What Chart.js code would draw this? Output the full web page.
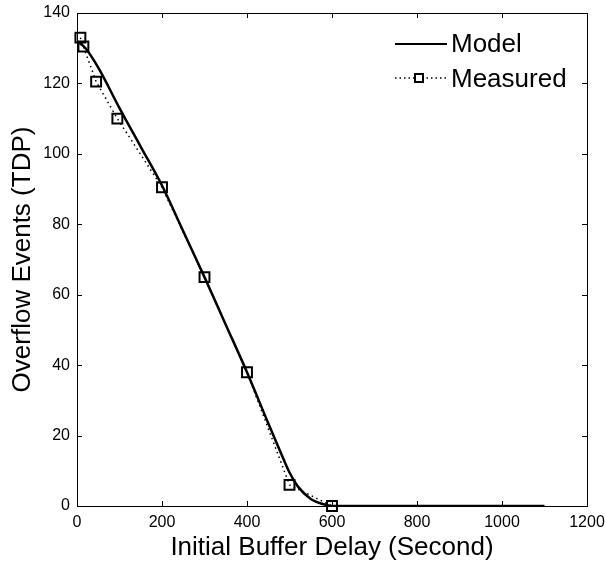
<!DOCTYPE html>
<html>
<head>
<meta charset="utf-8">
<script src="https://cdn.jsdelivr.net/npm/chart.js@4/dist/chart.umd.min.js"></script>
<style>
  html, body { margin: 0; padding: 0; background: #fff; }
  canvas { display: block; }
</style>
</head>
<body>
<canvas id="chart" width="605" height="561"></canvas>
<script>
// model curve
const modelX = [0, 20, 50, 100, 150, 200, 250, 300, 350, 400, 450, 480, 500, 520, 550, 580, 600, 700, 800, 900, 1000, 1100];
const modelY = [132, 130, 124.5, 113, 102, 91, 78, 65, 51.5, 38, 23.5, 15, 9.5, 5.5, 2, 0.5, 0, 0, 0, 0, 0, 0];

// measured points
const measuredX = [8, 15, 45, 95, 200, 300, 400, 500, 600];
const measuredY = [133, 130.5, 120.5, 110, 90.5, 65, 38, 6, 0];

const xTicks = [0, 200, 400, 600, 800, 1000, 1200];
const yTicks = [0, 20, 40, 60, 80, 100, 120, 140];

const FONT = '"Liberation Sans", Arial, sans-serif';

// box round the plot with inward ticks, like the original
const boxPlugin = {
    id: 'box',
    beforeDatasetsDraw(chart) {
        const { ctx, chartArea: a, scales } = chart;
        ctx.save();
        ctx.strokeStyle = '#000';
        ctx.lineWidth = 1;
        ctx.strokeRect(a.left + 0.5, a.top + 0.5, a.right - a.left, a.bottom - a.top);
        ctx.beginPath();
        const len = 5;
        xTicks.forEach(v => {
            const px = Math.round(scales.x.getPixelForValue(v)) + 0.5;
            ctx.moveTo(px, a.bottom);
            ctx.lineTo(px, a.bottom - len);
            ctx.moveTo(px, a.top);
            ctx.lineTo(px, a.top + len);
        });
        yTicks.forEach(v => {
            const py = Math.round(scales.y.getPixelForValue(v)) + 0.5;
            ctx.moveTo(a.left, py);
            ctx.lineTo(a.left + len, py);
            ctx.moveTo(a.right, py);
            ctx.lineTo(a.right - len, py);
        });
        ctx.stroke();
        ctx.restore();
    }
};

// legend inside the plot, top right, no frame
const legendPlugin = {
    id: 'innerLegend',
    afterDatasetsDraw(chart) {
        const { ctx } = chart;
        ctx.save();
        ctx.fillStyle = '#000';
        ctx.strokeStyle = '#000';
        ctx.font = '26px ' + FONT;
        ctx.textBaseline = 'middle';

        // Model
        ctx.lineWidth = 2;
        ctx.beginPath();
        ctx.moveTo(395, 44);
        ctx.lineTo(447, 44);
        ctx.stroke();
        ctx.fillText('Model', 451, 45);

        // Measured
        ctx.lineWidth = 1.5;
        ctx.setLineDash([1.5, 3]);
        ctx.beginPath();
        ctx.moveTo(395, 78);
        ctx.lineTo(447, 78);
        ctx.stroke();
        ctx.setLineDash([]);
        ctx.fillStyle = '#fff';
        ctx.fillRect(415, 74, 8, 8);
        ctx.lineWidth = 2;
        ctx.strokeRect(415, 74, 8, 8);
        ctx.fillStyle = '#000';
        ctx.fillText('Measured', 451, 80);
        ctx.restore();
    }
};

function noOverhang(s) {
    s.paddingTop = 0;
    s.paddingBottom = 0;
    s.paddingLeft = 0;
    s.paddingRight = 0;
}

new Chart(document.getElementById('chart'), {
    type: 'line',
    data: {
        datasets: [
            {
                label: 'Model',
                data: modelX.map((x, i) => ({ x: x, y: modelY[i] })),
                borderColor: '#000',
                borderWidth: 2.5,
                pointRadius: 0,
                cubicInterpolationMode: 'monotone',
                fill: false
            },
            {
                label: 'Measured',
                data: measuredX.map((x, i) => ({ x: x, y: measuredY[i] })),
                borderColor: '#000',
                borderWidth: 1.5,
                borderDash: [1.5, 3.5],
                pointStyle: 'rect',
                pointRadius: 7,
                pointBorderWidth: 2,
                pointBorderColor: '#000',
                pointBackgroundColor: 'rgba(0,0,0,0)',
                tension: 0,
                fill: false,
                clip: false
            }
        ]
    },
    options: {
        responsive: false,
        devicePixelRatio: 1,
        animation: false,
        layout: { padding: { top: 13, right: 18, left: 0, bottom: 0 } },
        plugins: {
            legend: { display: false },
            tooltip: { enabled: false }
        },
        scales: {
            x: {
                type: 'linear',
                min: 0,
                max: 1200,
                afterFit: s => { s.height = 55; noOverhang(s); },
                afterBuildTicks: s => { s.ticks = xTicks.map(v => ({ value: v })); },
                grid: { display: false, drawTicks: false },
                border: { display: false },
                ticks: {
                    color: '#000',
                    font: { family: FONT, size: 16 },
                    padding: 7,
                    maxRotation: 0,
                    callback: v => String(v)
                },
                title: {
                    display: true,
                    text: 'Initial Buffer Delay (Second)',
                    color: '#000',
                    font: { family: FONT, size: 26, lineHeight: 1 },
                    padding: { top: 0, bottom: 0 }
                }
            },
            y: {
                type: 'linear',
                min: 0,
                max: 140,
                afterFit: s => { s.width = 77; noOverhang(s); },
                afterBuildTicks: s => { s.ticks = yTicks.map(v => ({ value: v })); },
                grid: { display: false, drawTicks: false },
                border: { display: false },
                ticks: {
                    color: '#000',
                    font: { family: FONT, size: 16 },
                    padding: 7,
                    callback: v => String(v)
                },
                title: {
                    display: true,
                    text: 'Overflow Events (TDP)',
                    color: '#000',
                    font: { family: FONT, size: 26, lineHeight: 1 },
                    padding: { top: 10, bottom: 0 }
                }
            }
        }
    },
    plugins: [boxPlugin, legendPlugin]
});
</script>
</body>
</html>
